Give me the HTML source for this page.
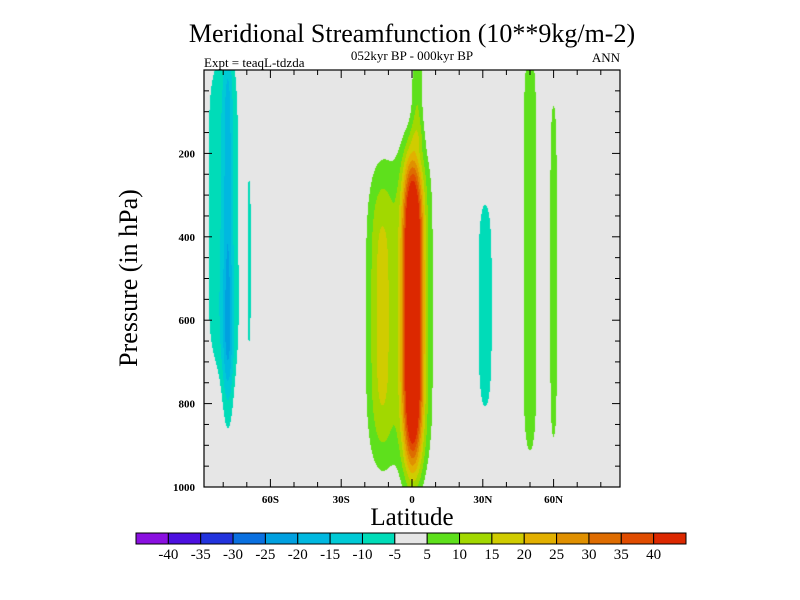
<!DOCTYPE html>
<html><head><meta charset="utf-8"><style>
body{margin:0;background:#fff;width:800px;height:600px;overflow:hidden;position:relative;font-family:"Liberation Serif",serif}
canvas,svg{position:absolute;left:0;top:0}
</style></head><body>
<canvas id="cv" width="800" height="600"></canvas>
<svg id="sv" width="800" height="600">
<text x="412" y="42" text-anchor="middle" font-size="26" font-family="Liberation Serif,serif">Meridional Streamfunction (10**9kg/m-2)</text>
<text x="412" y="60" text-anchor="middle" font-size="13">052kyr BP - 000kyr BP</text>
<text x="204" y="67" font-size="13">Expt = teaqL-tdzda</text>
<text x="620" y="62" text-anchor="end" font-size="13">ANN</text>
<text transform="translate(137,278) rotate(-90)" text-anchor="middle" font-size="26">Pressure (in hPa)</text>
<text x="412" y="525" text-anchor="middle" font-size="25">Latitude</text>
<g id="ax"></g>
<g id="cb"></g>
</svg>
<script>
// feature data (contour field components)
const blobLat=[0.3,0.5,2.2,-13,-80,-78,-78,-69,31,50,60];
const blobLatW=[4,9,2.6,6,8,2,3,0.8,3.3,4,2.3];
const blobP=[560,570,80,590,360,360,700,460,560,480,520];
const blobPHUp=[330,400,120,350,420,460,230,210,260,600,520];
const blobPHDown=[380,400,110,350,380,420,230,210,270,490,430];
const blobN=[4,6,6,4,6,6,2,6,4,6,6];
const blobAmp=[60,10,9,16,-9,-10,-7,-7,-10,8,7];
const levels=[-40,-35,-30,-25,-20,-15,-10,-5,5,10,15,20,25,30,35,40];
const colors=["#8a10e0","#4c10e0","#2233dd","#0a70e0","#00a0e0","#00b8e0","#00cad6","#00dcb8","#e6e6e6","#5ee01c","#a2d800","#d0cc00","#e2b000","#e09000","#de6c00","#e04c00","#dc2800"];
const xTicks=[-60,-30,0,30,60],xLab=["60S","30S","0","30N","60N"];
const yTicks=[200,400,600,800,1000];
const L=204,R=620,T=70,B=487;
const xs=lat=>412+lat*2.36;
const ys=p=>T+(p/1000)*(B-T);
const NS="http://www.w3.org/2000/svg";
function field(lat,p){let v=0;for(let i=0;i<blobLat.length;i++){const a=(lat-blobLat[i])/blobLatW[i];const h=p<blobP[i]?blobPHUp[i]:blobPHDown[i];const b=Math.abs((p-blobP[i])/h);v+=blobAmp[i]*Math.exp(-a*a)*Math.exp(-Math.pow(b,blobN[i]));}return v;}
function col(v){let k=0;while(k<levels.length&&v>=levels[k])k++;return colors[k];}
const ctx=document.getElementById('cv').getContext('2d');
for(let x=L;x<R;x++)for(let y=T;y<B;y++){const lat=(x+0.5-412)/2.36,p=(y+0.5-T)/(B-T)*1000;ctx.fillStyle=col(field(lat,p));ctx.fillRect(x,y,1,1);}
const ax=document.getElementById('ax');
function el(t,a,txt){const e=document.createElementNS(NS,t);for(const k in a)e.setAttribute(k,a[k]);if(txt!==undefined)e.textContent=txt;ax.appendChild(e);return e;}
let fr=el('rect',{x:L,y:T,width:R-L,height:B-T,fill:'none',stroke:'#000','stroke-width':1.2});


for(let lat=-80;lat<=80;lat+=10){const x=xs(lat),len=lat%30==0?8:5;
el('line',{x1:x,x2:x,y1:B,y2:B-len,stroke:'#000'});el('line',{x1:x,x2:x,y1:T,y2:T+len,stroke:'#000'});}
for(let p=50;p<1000;p+=50){const y=ys(p),len=p%200==0?8:5;
el('line',{x1:L,x2:L+len,y1:y,y2:y,stroke:'#000'});el('line',{x1:R,x2:R-len,y1:y,y2:y,stroke:'#000'});}
xTicks.forEach((v,i)=>{const t=el('text',{x:xs(v),y:503,'text-anchor':'middle','font-size':11,'font-weight':'bold'},xLab[i]);

});
yTicks.forEach(v=>{const t=el('text',{x:195,y:ys(v)+4,'text-anchor':'end','font-size':11,'font-weight':'bold'},String(v));

});
const cb=document.getElementById('cb');const bx=136,bw=550/17;
colors.forEach((c,i)=>{const r=document.createElementNS(NS,'rect');
r.setAttribute('x',bx+i*bw);r.setAttribute('y',533);r.setAttribute('width',bw);r.setAttribute('height',11);r.setAttribute('fill',c);r.setAttribute('stroke','#000');


cb.appendChild(r);});
levels.forEach((v,i)=>{const t=document.createElementNS(NS,'text');
t.setAttribute('x',bx+(i+1)*bw);t.setAttribute('y',559);t.setAttribute('text-anchor','middle');t.setAttribute('font-size',15);t.textContent=String(v);


cb.appendChild(t);});
</script>
</body></html>
